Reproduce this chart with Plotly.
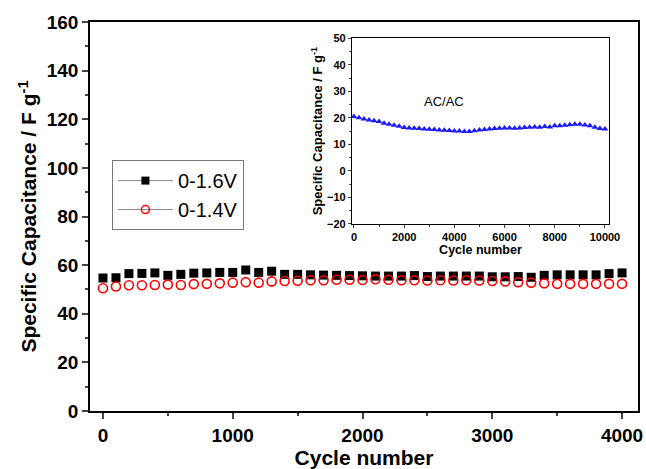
import plotly.graph_objects as go

cycles_main = list(range(0, 4001, 100))
cap_16V = [54.7, 54.8, 56.5, 56.6, 56.8, 55.8, 56.2, 56.7, 56.8, 57.0, 57.0, 58.0, 57.0, 57.5,
           56.2, 56.2, 56.0, 55.9, 55.8, 55.7, 55.6, 55.5, 55.5, 55.5, 55.7, 55.3, 55.5, 55.5,
           55.5, 55.5, 55.2, 55.2, 55.3, 55.0, 55.8, 56.0, 56.0, 56.0, 56.0, 56.5, 56.8]
cap_14V = [50.5, 51.2, 51.7, 51.7, 51.8, 52.0, 51.8, 52.2, 52.3, 52.5, 52.8, 53.0, 52.8, 53.3,
           53.5, 53.6, 53.8, 53.8, 54.0, 54.0, 53.9, 54.2, 54.0, 53.8, 53.8, 53.7, 53.8, 53.7,
           53.8, 53.7, 53.5, 53.3, 53.0, 52.8, 52.5, 52.3, 52.3, 52.3, 52.3, 52.3, 52.3]

cycles_inset = list(range(0, 10001, 200))
cap_acac = [20.5, 20.0, 19.6, 19.2, 18.9, 18.6, 18.0, 17.6, 17.2, 16.8, 16.4, 16.2, 16.1, 16.0,
            15.8, 15.7, 15.6, 15.4, 15.3, 15.2, 15.0, 15.0, 14.9, 14.9, 15.1, 15.4, 15.6, 15.8,
            16.0, 16.1, 16.2, 16.2, 16.1, 16.2, 16.4, 16.5, 16.6, 16.5, 16.7, 16.6, 17.0, 17.0,
            17.2, 17.4, 17.6, 17.6, 17.3, 17.0, 16.5, 16.0, 15.8]

main_xticks = [0, 1000, 2000, 3000, 4000]
inset_xticks = [0, 2000, 4000, 6000, 8000, 10000]

fig = go.Figure()
font = "Liberation Sans, Arial, sans-serif"

fig.add_trace(go.Scatter(x=cycles_main, y=cap_16V, mode="markers", showlegend=False,
                         marker=dict(symbol="square", size=9, color="black")))
fig.add_trace(go.Scatter(x=cycles_main, y=cap_14V, mode="markers", showlegend=False,
                         marker=dict(symbol="circle-open", size=9, color="red", line=dict(width=1.6))))
# legend entries
fig.add_trace(go.Scatter(x=[None], y=[None], mode="lines+markers", name="0-1.6V",
                         line=dict(color="#888888", width=1),
                         marker=dict(symbol="square", size=8, color="black")))
fig.add_trace(go.Scatter(x=[None], y=[None], mode="lines+markers", name="0-1.4V",
                         line=dict(color="#888888", width=1),
                         marker=dict(symbol="circle-open", size=8, color="red", line=dict(width=1.5))))

fig.add_trace(go.Scatter(x=cycles_inset, y=cap_acac, mode="markers", showlegend=False,
                         xaxis="x2", yaxis="y2",
                         marker=dict(symbol="triangle-up", size=6, color="#1a1aff")))

fig.update_layout(
    width=646, height=469,
    margin=dict(l=90, r=8, t=22, b=58, autoexpand=False),
    plot_bgcolor="white", paper_bgcolor="white",
    font=dict(family=font, color="black"),
    xaxis=dict(range=[-100, 4123], showline=True, linecolor="black", linewidth=1.5, mirror=True,
               automargin=False,
               ticks="outside", ticklen=6, tickwidth=1.5,
               tickvals=main_xticks, ticktext=[str(v) for v in main_xticks],
               minor=dict(tickvals=[500, 1500, 2500, 3500], ticks="outside", ticklen=3, tickwidth=1.5),
               showgrid=False, zeroline=False,
               tickfont=dict(size=19, family=font, weight="bold"),
               title=dict(text="<b>Cycle number</b>", font=dict(size=21), standoff=4)),
    yaxis=dict(range=[0, 160], showline=True, linecolor="black", linewidth=1.5, mirror=True,
               automargin=False,
               ticks="outside", ticklen=6, tickwidth=1.5, dtick=20,
               minor=dict(dtick=10, ticks="outside", ticklen=3, tickwidth=1.5),
               showgrid=False, zeroline=False,
               tickfont=dict(size=19, family=font, weight="bold"),
               title=dict(text="<b>Specific Capacitance / F g<sup>-1</sup></b>", font=dict(size=21), standoff=4)),
    xaxis2=dict(domain=[0.478, 0.947], anchor="y2", range=[-80, 10160], showline=True,
                automargin=False,
                linecolor="black", linewidth=1, mirror=True, ticks="outside", ticklen=3,
                tickvals=inset_xticks, ticktext=[str(v) for v in inset_xticks],
                minor=dict(tickvals=[1000, 3000, 5000, 7000, 9000], ticks="outside", ticklen=2),
                showgrid=False, zeroline=False,
                tickfont=dict(size=11, family=font, weight="bold"),
                title=dict(text="<b>Cycle number</b>", font=dict(size=12.5), standoff=1)),
    yaxis2=dict(domain=[0.481, 0.958], anchor="x2", range=[-20, 50], showline=True,
                automargin=False,
                linecolor="black", linewidth=1, mirror=True, ticks="outside", ticklen=3, dtick=10,
                minor=dict(dtick=5, ticks="outside", ticklen=2),
                showgrid=False, zeroline=False,
                tickfont=dict(size=11, family=font, weight="bold"),
                title=dict(text="<b>Specific Capacitance / F g<sup>-1</sup></b>", font=dict(size=13), standoff=1)),
    legend=dict(x=0.04, y=0.645, xanchor="left", yanchor="top", bordercolor="#777777", borderwidth=1,
                bgcolor="white", font=dict(size=20, family=font), itemwidth=55,
                tracegroupgap=0),
    annotations=[dict(x=3600, y=26, xref="x2", yref="y2", text="AC/AC", showarrow=False,
                      font=dict(size=13, family=font))],
)

fig.write_html("out.html")
